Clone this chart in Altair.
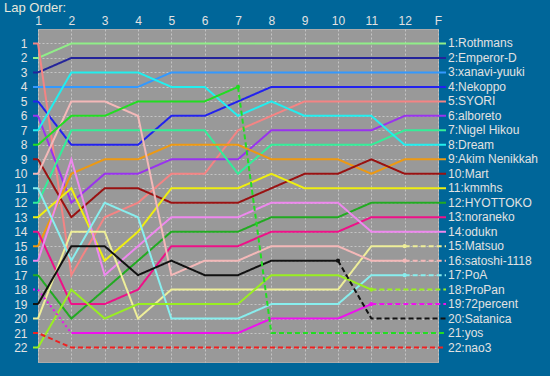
import json
import altair as alt
import pandas as pd

drivers = ["Rothmans", "Emperor-D", "xanavi-yuuki", "Nekoppo", "SYORI", "alboreto",
           "Nigel Hikou", "Dream", "Akim Nenikkah", "Mart", "kmmhs", "HYOTTOKO",
           "noraneko", "odukn", "Matsuo", "satoshi-1118", "PoA", "ProPan",
           "72percent", "Satanica", "yos", "nao3"]
colors = ["#90ee88", "#24249a", "#3399ff", "#2222ee", "#f48484", "#9933ee",
          "#33ee99", "#22eeee", "#ee9911", "#991111", "#eeee11", "#22aa22",
          "#ee1188", "#ee88ee", "#eeee99", "#f4b8b8", "#88eeee", "#99ee22",
          "#ee11ee", "#111111", "#22dd22", "#ee2222"]
lap_labels = ["1", "2", "3", "4", "5", "6", "7", "8", "9", "10", "11", "12", "F"]

# position at laps 1..12 and F
positions = {
    "Rothmans":      [2, 1, 1, 1, 1, 1, 1, 1, 1, 1, 1, 1, 1],
    "Emperor-D":     [3, 2, 2, 2, 2, 2, 2, 2, 2, 2, 2, 2, 2],
    "xanavi-yuuki":  [4, 4, 4, 4, 3, 3, 3, 3, 3, 3, 3, 3, 3],
    "Nekoppo":       [5, 8, 8, 8, 6, 6, 5, 4, 4, 4, 4, 4, 4],
    "SYORI":         [1, 17, 13, 12, 10, 10, 7, 6, 5, 5, 5, 5, 5],
    "alboreto":      [6, 12, 10, 10, 9, 9, 9, 7, 7, 7, 7, 6, 6],
    "Nigel Hikou":   [12, 7, 7, 7, 7, 7, 10, 8, 8, 8, 8, 7, 7],
    "Dream":         [7, 3, 3, 3, 4, 4, 6, 5, 6, 6, 6, 8, 8],
    "Akim Nenikkah": [15, 10, 9, 9, 8, 8, 8, 9, 9, 9, 10, 9, 9],
    "Mart":          [9, 13, 11, 11, 12, 12, 12, 11, 10, 10, 9, 10, 10],
    "kmmhs":         [13, 11, 16, 14, 11, 11, 11, 10, 11, 11, 11, 11, 11],
    "HYOTTOKO":      [17, 20, 18, 16, 14, 14, 14, 13, 13, 13, 12, 12, 12],
    "noraneko":      [14, 19, 19, 18, 15, 15, 15, 14, 14, 14, 13, 13, 13],
    "odukn":         [16, 9, 17, 15, 13, 13, 13, 12, 12, 12, 14, 14, 14],
    "Matsuo":        [20, 14, 14, 20, 18, 18, 18, 18, 18, 18, 15, 15, 15],
    "satoshi-1118":  [10, 5, 5, 6, 17, 16, 16, 15, 15, 15, 16, 16, 16],
    "PoA":           [11, 16, 12, 13, 20, 20, 20, 19, 19, 19, 17, 17, 17],
    "ProPan":        [22, 18, 20, 19, 19, 19, 19, 17, 17, 17, 18, 18, 18],
    "72percent":     [18, 21, 21, 21, 21, 21, 21, 20, 20, 20, 19, 19, 19],
    "Satanica":      [19, 15, 15, 17, 16, 17, 17, 16, 16, 16, 20, 20, 20],
    "yos":           [8, 6, 6, 5, 5, 5, 4, 21, 21, 21, 21, 21, 21],
    "nao3":          [21, 22, 22, 22, 22, 22, 22, 22, 22, 22, 22, 22, 22],
}
# style of each lap-to-lap segment: S solid, D dashed, O dotted
styles = {d: "SSSSSSSSSSSS" for d in drivers}
styles["Matsuo"] = "SSSSSSSSSSSD"
styles["satoshi-1118"] = "SSSSSSSSSSSD"
styles["PoA"] = "SSSSSSSSSSSD"
styles["ProPan"] = "SSSSSSSSSSDD"
styles["72percent"] = "OSSSSSSSSSDD"
styles["Satanica"] = "SSSSSSSSSDDD"
styles["yos"] = "SSSSSSDDDDDD"
styles["nao3"] = "DDDDDDDDDDDD"

rows = []
ends = []
for d in drivers:
    p = positions[d]
    st = styles[d]
    run = 0
    i = 0
    while i < 12:
        j = i
        while j + 1 < 12 and st[j + 1] == st[i]:
            j += 1
        pts = [(k + 1, p[k]) for k in range(i, j + 2)]
        if i == 0:
            pts.insert(0, (0.85, p[0]))
        if j == 11:
            pts.append((13.24, p[12]))
        for o, (x, y) in enumerate(pts):
            rows.append(dict(driver=d, seg=f"{d}_{run}", style=st[i], lap=x, pos=y, o=o))
        if st[i] == "S" and j < 11:
            ends.append(dict(driver=d, lap=j + 2, pos=p[j + 1]))
        run += 1
        i = j + 1

df = pd.DataFrame(rows)
df_end = pd.DataFrame(ends)
df_lab = pd.DataFrame({
    "driver": drivers,
    "pos": [positions[d][12] for d in drivers],
    "lap": [13] * len(drivers),
})
df_lab["label"] = [f"{p}:{d}" for p, d in zip(df_lab["pos"], df_lab["driver"])]

FONT = "Liberation Sans"
TXT = "#e2e2e2"

xscale = alt.Scale(domain=[1, 13], nice=False, zero=False)
yscale = alt.Scale(domain=[0, 23], reverse=True, nice=False, zero=False)
cscale = alt.Scale(domain=drivers, range=colors)

x_axis = alt.Axis(
    orient="top", values=list(range(1, 14)),
    labelExpr=f"{json.dumps(lap_labels)}[datum.value - 1]",
    labelColor=TXT, labelFont=FONT, labelFontSize=12, labelPadding=2,
    labelOverlap=False, labelFlush=False,
    ticks=False, domain=False, title=None,
    grid=True, gridColor="#c4c4c4", gridDash=[2, 2], gridWidth=1)
y_axis = alt.Axis(
    values=list(range(1, 23)), labelColor=TXT, labelFont=FONT, labelFontSize=12,
    labelPadding=11, labelOverlap=False, labelFlush=False,
    ticks=False, domain=False, title=None,
    grid=True, gridColor="#c4c4c4", gridDash=[2, 2], gridWidth=1)


def xe():
    return alt.X("lap:Q", scale=xscale, axis=x_axis)


def ye():
    return alt.Y("pos:Q", scale=yscale, axis=y_axis)


lines = alt.Chart(df).mark_line(strokeWidth=2, clip=False).encode(
    x=xe(), y=ye(),
    color=alt.Color("driver:N", scale=cscale, legend=None),
    strokeDash=alt.StrokeDash("style:N", scale=alt.Scale(
        domain=["S", "D", "O"], range=[[1, 0], [5, 3], [2, 3]]), legend=None),
    detail="seg:N",
    order="o:Q",
)

dots = alt.Chart(df_end).mark_circle(size=18, opacity=1).encode(
    x=xe(), y=ye(),
    color=alt.Color("driver:N", scale=cscale, legend=None),
)

labels = alt.Chart(df_lab).mark_text(
    align="left", baseline="middle", dx=10, font=FONT, fontSize=12, color=TXT
).encode(
    x=xe(), y=ye(),
    text="label:N",
)

title = alt.Chart(pd.DataFrame({"t": ["Lap Order:"]})).mark_text(
    align="left", baseline="alphabetic", font=FONT, fontSize=13, color="#e8e8dc"
).encode(x=alt.value(-34), y=alt.value(-17), text="t:N")

chart = alt.layer(lines, dots, labels, title).properties(
    width=400, height=333,
    autosize=alt.AutoSizeParams(type="none"),
    padding={"left": 38, "top": 29, "right": 112, "bottom": 14},
    background="#006699",
).configure_view(
    fill="#999999", stroke="#aaaaaa", strokeWidth=1
).configure_axis(labelOverlap=False)

chart.save("out.html", embed_options={"renderer": "svg", "actions": False})
